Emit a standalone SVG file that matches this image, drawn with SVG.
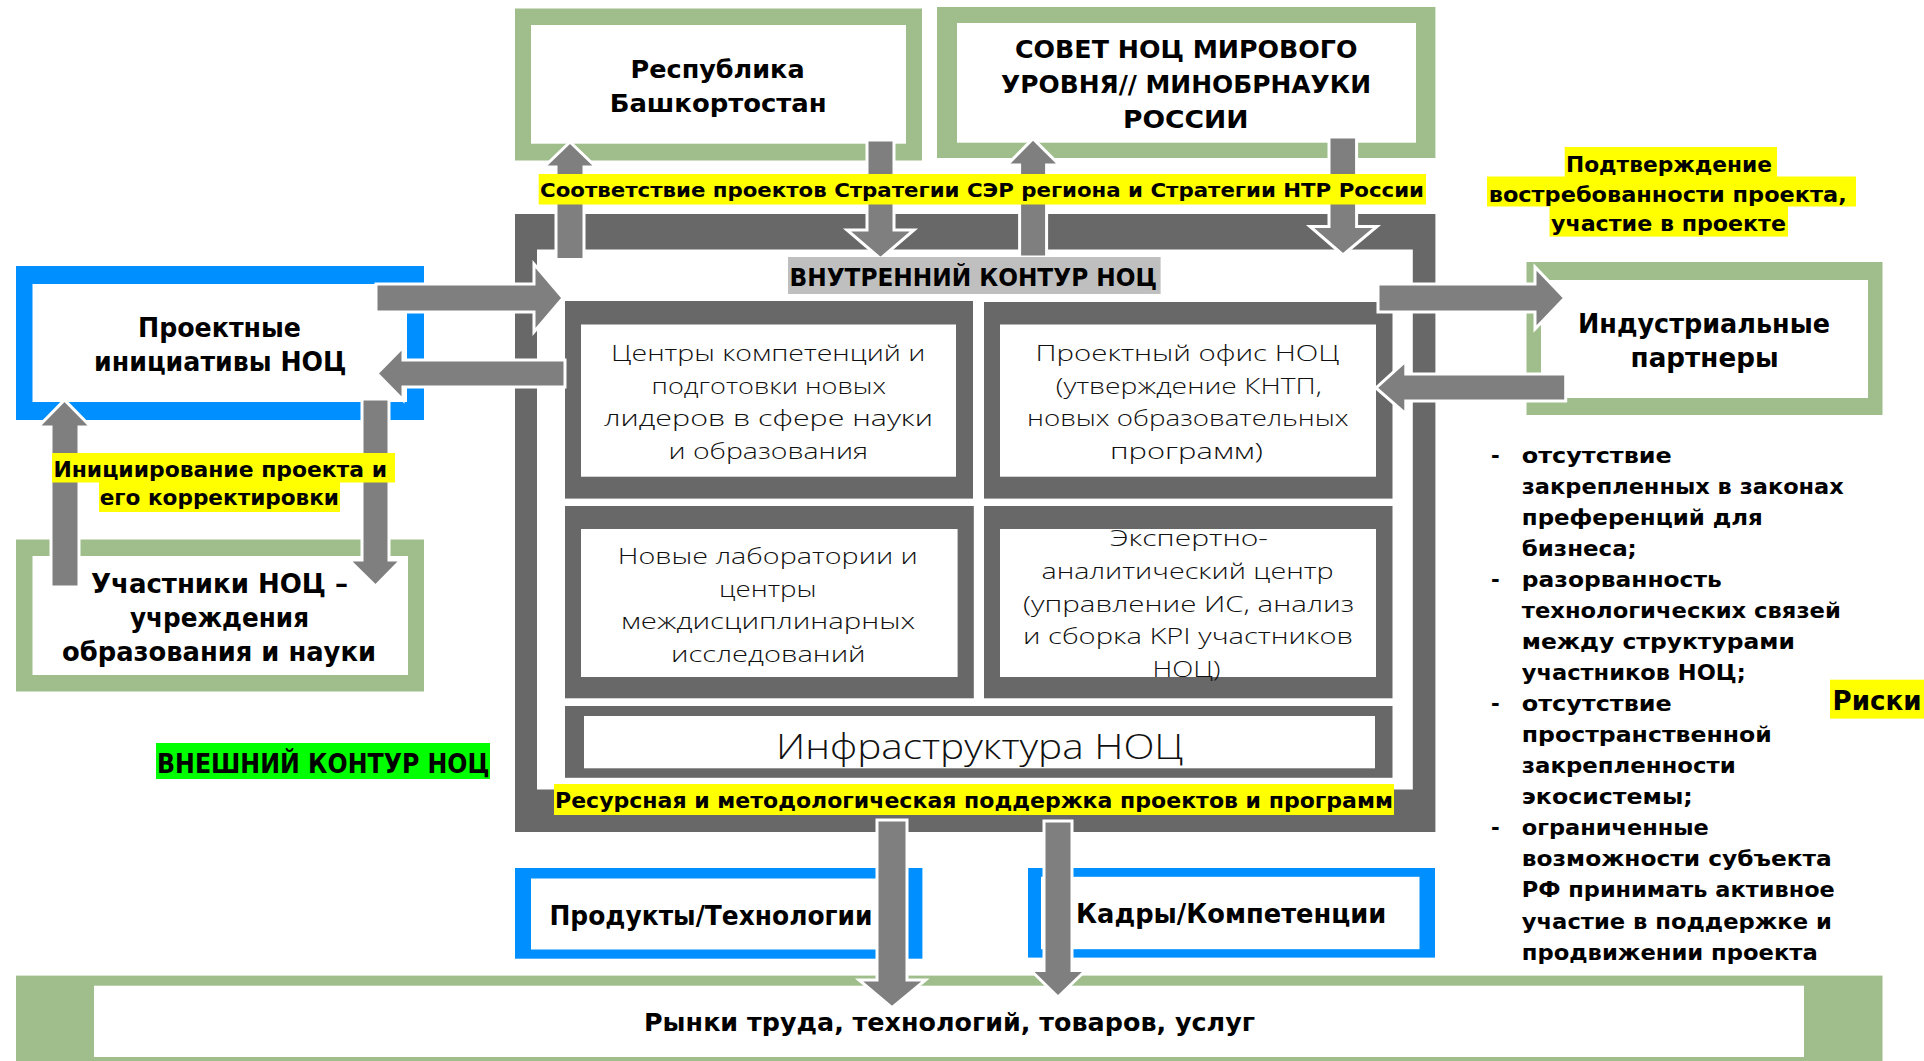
<svg xmlns="http://www.w3.org/2000/svg" width="1924" height="1061" viewBox="0 0 1924 1061">
<defs>
<style>
.g{fill:#9fbe8b}
.bl{fill:#008fff}
.dk{fill:#686868}
.w{fill:#ffffff}
.ar{fill:#7f7f7f;stroke:#ffffff;stroke-width:3;stroke-linejoin:miter}
.hl{fill:#ffff00}
.t{font-family:"DejaVu Sans","Liberation Sans",sans-serif;fill:#000}
.b{font-weight:bold}
.lt{font-family:"Open Sans","DejaVu Sans",sans-serif;font-weight:300;fill:#111}
</style>
</defs>
<rect x="0" y="0" width="1924" height="1061" fill="#ffffff"/>

<!-- green / blue outer nodes -->
<g id="respublika">
<rect class="g" x="515" y="8.5" width="407" height="152"/>
<rect class="w" x="531" y="25" width="375" height="118.7"/>
</g>
<g id="sovet">
<rect class="g" x="937" y="7" width="498.4" height="151"/>
<rect class="w" x="957" y="23" width="459" height="119.7"/>
</g>
<g id="industrial">
<rect class="g" x="1526.5" y="262" width="356" height="153"/>
<rect class="w" x="1541" y="280" width="327" height="118"/>
</g>
<g id="uchastniki">
<rect class="g" x="16" y="539.5" width="408" height="152"/>
<rect class="w" x="32.5" y="556" width="375.5" height="119"/>
</g>
<g id="proektnye">
<rect class="bl" x="16" y="266" width="408" height="154"/>
<rect class="w" x="32.5" y="284" width="374.5" height="118"/>
</g>
<g id="rynki">
<rect class="g" x="16" y="975.6" width="1866.5" height="86"/>
<rect class="w" x="94" y="985.7" width="1710" height="71.3"/>
</g>
<g id="produkty">
<rect class="bl" x="515" y="868" width="407.4" height="90.7"/>
<rect class="w" x="531" y="878.5" width="375" height="71"/>
</g>
<g id="kadry">
<rect class="bl" x="1028" y="868" width="407" height="89.6"/>
<rect class="w" x="1041" y="876.8" width="378.5" height="72.4"/>
</g>

<!-- inner contour frame -->
<g id="inner-contour">
<path class="dk" fill-rule="evenodd" d="M515 214H1435.4V832H515Z M537 249.5V789.6H1412.8V249.5Z"/>
</g>
<g id="centry">
<rect class="dk" x="565" y="301" width="408" height="197.6"/>
<rect class="w" x="581" y="324.5" width="375" height="152.2"/>
</g>
<g id="proekt-ofis">
<rect class="dk" x="984" y="302" width="408.5" height="196.6"/>
<rect class="w" x="1000" y="324.5" width="376" height="152.2"/>
</g>
<g id="laboratorii">
<rect class="dk" x="565" y="506" width="408.8" height="192.3"/>
<rect class="w" x="581" y="529" width="376.6" height="148"/>
</g>
<g id="ekspert">
<rect class="dk" x="984" y="506" width="408.5" height="192.3"/>
<rect class="w" x="1000" y="529" width="376" height="148"/>
</g>
<g id="infra">
<rect class="dk" x="565" y="706" width="827.5" height="71.8"/>
<rect class="w" x="584" y="716" width="791" height="52.3"/>
</g>

<!-- connectors -->
<g id="connectors">
<polygon class="ar" points="556,259.6 556,167 544,167 570,142 596,167 584,167 584,259.6"/>
<polygon class="ar" points="867,140 894,140 894,230 914,230 880.5,258.6 847,230 867,230"/>
<polygon class="ar" points="1019.6,257 1019.6,165 1007,165 1033,138.6 1059.5,165 1046.6,165 1046.6,257"/>
<polygon class="ar" points="1329,137 1356.6,137 1356.6,226.5 1377,226.5 1343,255 1310,226.5 1329,226.5"/>
<polygon class="ar" points="376,284 534,284 534,264 563,298 534,332 534,312 376,312"/>
<polygon class="ar" points="565,360 403,360 403,347 377,373.5 403,400 403,387 565,387"/>
<polygon class="ar" points="1378,284 1535,284 1535,267 1564.7,298 1535,329 1535,312 1378,312"/>
<polygon class="ar" points="1565.7,374 1405.8,374 1405.8,361 1376,388 1405.8,414 1405.8,401 1565.7,401"/>
<polygon class="ar" points="51,587 51,427 38,427 64.5,400 91,427 79,427 79,587"/>
<polygon class="ar" points="362,399 389,399 389,560 401,560 375.5,586 349,560 362,560"/>
<polygon class="ar" points="877,820 907,820 907,980 925.5,980 892,1007.7 859,980 877,980"/>
<polygon class="ar" points="1044,821 1072,821 1072,970.5 1085.5,970.5 1058,997 1031,970.5 1044,970.5"/>
</g>

<!-- highlighted labels -->
<g id="label-sootvetstvie">
<rect class="hl" x="538.7" y="174" width="887.3" height="30.5"/>
<text class="t b" x="540" y="197" font-size="20" textLength="884" lengthAdjust="spacingAndGlyphs">Соответствие проектов Стратегии СЭР региона и Стратегии НТР России</text>
</g>
<g id="label-vnutrenniy">
<rect x="788" y="257" width="372.6" height="37" fill="#bfbfbf"/>
<text class="t b" x="789.5" y="285.7" font-size="25" textLength="367.5" lengthAdjust="spacingAndGlyphs">ВНУТРЕННИЙ КОНТУР НОЦ</text>
</g>
<g id="label-podtverzhdenie">
<rect class="hl" x="1564.7" y="147" width="212.3" height="30"/>
<rect class="hl" x="1487" y="176.5" width="369" height="30"/>
<rect class="hl" x="1549.5" y="206" width="238.5" height="30.6"/>
<text class="t b" x="1566" y="171.7" font-size="21.5" textLength="206" lengthAdjust="spacingAndGlyphs">Подтверждение</text>
<text class="t b" x="1488.7" y="201.8" font-size="21.5" textLength="358" lengthAdjust="spacingAndGlyphs">востребованности проекта,</text>
<text class="t b" x="1551" y="230.6" font-size="21.5" textLength="235" lengthAdjust="spacingAndGlyphs">участие в проекте</text>
</g>
<g id="label-iniciirovanie">
<rect class="hl" x="52" y="453" width="343" height="29.5"/>
<rect class="hl" x="99" y="482" width="241" height="30"/>
<text class="t b" x="53.4" y="476.7" font-size="21" textLength="333.6" lengthAdjust="spacingAndGlyphs">Инициирование проекта и</text>
<text class="t b" x="99.7" y="505.4" font-size="21" textLength="239.3" lengthAdjust="spacingAndGlyphs">его корректировки</text>
</g>
<g id="label-vneshniy">
<rect x="156" y="743" width="334" height="36" fill="#00ff00"/>
<text class="t b" x="157" y="772.7" font-size="26" textLength="332.5" lengthAdjust="spacingAndGlyphs">ВНЕШНИЙ КОНТУР НОЦ</text>
</g>
<g id="label-resursnaya">
<rect class="hl" x="554" y="784" width="840" height="31"/>
<text class="t b" x="555" y="808" font-size="22" textLength="838" lengthAdjust="spacingAndGlyphs">Ресурсная и методологическая поддержка проектов и программ</text>
</g>
<g id="label-riski">
<rect class="hl" x="1830" y="679.7" width="94" height="38.9"/>
<text class="t b" x="1832.5" y="710" font-size="26" textLength="89" lengthAdjust="spacingAndGlyphs">Риски</text>
</g>

<!-- node texts -->
<g id="text-respublika" class="t b" font-size="24.5">
<text x="630.6" y="78" textLength="174" lengthAdjust="spacingAndGlyphs">Республика</text>
<text x="609.7" y="111.6" textLength="217" lengthAdjust="spacingAndGlyphs">Башкортостан</text>
</g>
<g id="text-sovet" class="t b" font-size="25">
<text x="1015" y="58" textLength="342.5" lengthAdjust="spacingAndGlyphs">СОВЕТ НОЦ МИРОВОГО</text>
<text x="1001" y="93" textLength="370" lengthAdjust="spacingAndGlyphs">УРОВНЯ// МИНОБРНАУКИ</text>
<text x="1123" y="127.8" textLength="125.5" lengthAdjust="spacingAndGlyphs">РОССИИ</text>
</g>
<g id="text-proektnye" class="t b" font-size="26">
<text x="138" y="337" textLength="163" lengthAdjust="spacingAndGlyphs">Проектные</text>
<text x="94" y="371" textLength="252.5" lengthAdjust="spacingAndGlyphs">инициативы НОЦ</text>
</g>
<g id="text-uchastniki" class="t b" font-size="26">
<text x="91" y="593" textLength="257" lengthAdjust="spacingAndGlyphs">Участники НОЦ –</text>
<text x="130" y="627" textLength="179" lengthAdjust="spacingAndGlyphs">учреждения</text>
<text x="62" y="661" textLength="314" lengthAdjust="spacingAndGlyphs">образования и науки</text>
</g>
<g id="text-industrial" class="t b" font-size="26.5">
<text x="1578" y="333" textLength="252" lengthAdjust="spacingAndGlyphs">Индустриальные</text>
<text x="1630.6" y="366.8" textLength="148" lengthAdjust="spacingAndGlyphs">партнеры</text>
</g>
<g id="text-centry" class="t lt" font-size="22">
<text x="611" y="361" textLength="314.4" lengthAdjust="spacingAndGlyphs">Центры компетенций и</text>
<text x="651.6" y="393.5" textLength="234.3" lengthAdjust="spacingAndGlyphs">подготовки новых</text>
<text x="604" y="426" textLength="329" lengthAdjust="spacingAndGlyphs">лидеров в сфере науки</text>
<text x="668.5" y="458.5" textLength="199.5" lengthAdjust="spacingAndGlyphs">и образования</text>
</g>
<g id="text-proekt-ofis" class="t lt" font-size="22">
<text x="1035.5" y="361" textLength="304" lengthAdjust="spacingAndGlyphs">Проектный офис НОЦ</text>
<text x="1055.8" y="393.5" textLength="266" lengthAdjust="spacingAndGlyphs">(утверждение КНТП,</text>
<text x="1027" y="426" textLength="321.5" lengthAdjust="spacingAndGlyphs">новых образовательных</text>
<text x="1110" y="458.5" textLength="153" lengthAdjust="spacingAndGlyphs">программ)</text>
</g>
<g id="text-laboratorii" class="t lt" font-size="22">
<text x="617.8" y="564" textLength="300" lengthAdjust="spacingAndGlyphs">Новые лаборатории и</text>
<text x="719" y="596.5" textLength="97.6" lengthAdjust="spacingAndGlyphs">центры</text>
<text x="621" y="629" textLength="294" lengthAdjust="spacingAndGlyphs">междисциплинарных</text>
<text x="671" y="661.5" textLength="194.6" lengthAdjust="spacingAndGlyphs">исследований</text>
</g>
<g id="text-ekspert" class="t lt" font-size="22">
<text x="1110" y="546" textLength="158" lengthAdjust="spacingAndGlyphs">Экспертно-</text>
<text x="1041.6" y="579" textLength="292" lengthAdjust="spacingAndGlyphs">аналитический центр</text>
<text x="1023" y="611.5" textLength="331" lengthAdjust="spacingAndGlyphs">(управление ИС, анализ</text>
<text x="1023" y="644" textLength="330" lengthAdjust="spacingAndGlyphs">и сборка KPI участников</text>
<text x="1152.5" y="676.5" textLength="68" lengthAdjust="spacingAndGlyphs">НОЦ)</text>
</g>
<g id="text-infra" class="t lt" font-size="34">
<text x="776" y="759" textLength="407.5" lengthAdjust="spacingAndGlyphs">Инфраструктура НОЦ</text>
</g>
<g id="text-produkty" class="t b" font-size="26">
<text x="549.5" y="924.8" textLength="323" lengthAdjust="spacingAndGlyphs">Продукты/Технологии</text>
</g>
<g id="text-kadry" class="t b" font-size="26">
<text x="1076" y="923" textLength="310.4" lengthAdjust="spacingAndGlyphs">Кадры/Компетенции</text>
</g>
<g id="text-rynki" class="t b" font-size="25">
<text x="644" y="1031" textLength="611" lengthAdjust="spacingAndGlyphs">Рынки труда, технологий, товаров, услуг</text>
</g>

<!-- risks list -->
<g id="risks" class="t b" font-size="21">
<text x="1491" y="462.5">-</text>
<text x="1521.8" y="462.5" textLength="150" lengthAdjust="spacingAndGlyphs">отсутствие</text>
<text x="1521.8" y="493.6" textLength="322" lengthAdjust="spacingAndGlyphs">закрепленных в законах</text>
<text x="1521.8" y="524.6" textLength="241" lengthAdjust="spacingAndGlyphs">преференций для</text>
<text x="1521.8" y="555.7" textLength="115" lengthAdjust="spacingAndGlyphs">бизнеса;</text>
<text x="1491" y="586.8">-</text>
<text x="1521.8" y="586.8" textLength="200" lengthAdjust="spacingAndGlyphs">разорванность</text>
<text x="1521.8" y="617.8" textLength="319" lengthAdjust="spacingAndGlyphs">технологических связей</text>
<text x="1521.8" y="648.9" textLength="273" lengthAdjust="spacingAndGlyphs">между структурами</text>
<text x="1521.8" y="680" textLength="224" lengthAdjust="spacingAndGlyphs">участников НОЦ;</text>
<text x="1491" y="711">-</text>
<text x="1521.8" y="711" textLength="150" lengthAdjust="spacingAndGlyphs">отсутствие</text>
<text x="1521.8" y="742.1" textLength="250" lengthAdjust="spacingAndGlyphs">пространственной</text>
<text x="1521.8" y="773.2" textLength="214" lengthAdjust="spacingAndGlyphs">закрепленности</text>
<text x="1521.8" y="804.2" textLength="171" lengthAdjust="spacingAndGlyphs">экосистемы;</text>
<text x="1491" y="835.3">-</text>
<text x="1521.8" y="835.3" textLength="187" lengthAdjust="spacingAndGlyphs">ограниченные</text>
<text x="1521.8" y="866.4" textLength="310" lengthAdjust="spacingAndGlyphs">возможности субъекта</text>
<text x="1521.8" y="897.4" textLength="313" lengthAdjust="spacingAndGlyphs">РФ принимать активное</text>
<text x="1521.8" y="928.5" textLength="310" lengthAdjust="spacingAndGlyphs">участие в поддержке и</text>
<text x="1521.8" y="959.6" textLength="296" lengthAdjust="spacingAndGlyphs">продвижении проекта</text>
</g>
</svg>
